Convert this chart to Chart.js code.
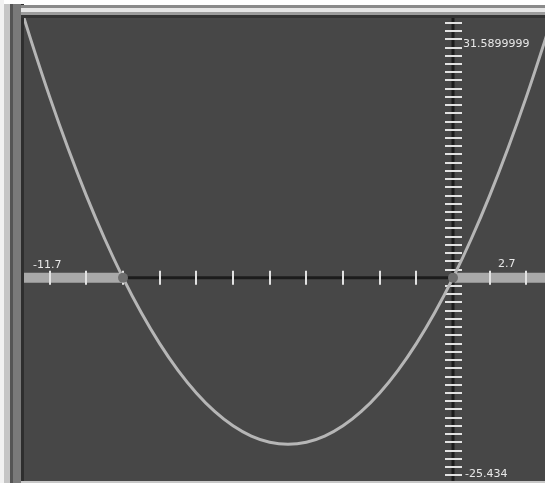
<!DOCTYPE html>
<html>
<head>
<meta charset="utf-8">
<script src="https://cdn.jsdelivr.net/npm/chart.js@4.4.1/dist/chart.umd.min.js"></script>
<style>
  html, body { margin: 0; padding: 0; overflow: hidden; background: #ffffff; width: 545px; height: 483px; }
  .strip { position: absolute; }
  #plot { position: absolute; left: 24px; top: 18px; background: #474747; }
</style>
</head>
<body>
<!-- window frame -->
<div class="strip" style="left:0;top:0;width:4px;height:483px;background:#f2f2f2"></div>
<div class="strip" style="left:4px;top:4px;width:6px;height:479px;background:#c6c6c6"></div>
<div class="strip" style="left:10px;top:4px;width:3px;height:479px;background:#555"></div>
<div class="strip" style="left:13px;top:4px;width:8px;height:479px;background:#7a7a7a"></div>
<div class="strip" style="left:21px;top:4px;width:3px;height:479px;background:#2e2e2e"></div>
<div class="strip" style="left:21px;top:5px;width:524px;height:3px;background:#8a8a8a"></div>
<div class="strip" style="left:21px;top:8px;width:524px;height:4px;background:#e6e6e6"></div>
<div class="strip" style="left:21px;top:12px;width:524px;height:3px;background:#9c9c9c"></div>
<div class="strip" style="left:21px;top:15px;width:524px;height:3px;background:#343434"></div>

<canvas id="plot" width="528" height="469"></canvas>
<div class="strip" style="left:21px;top:481px;width:524px;height:2px;background:#c8c8c8"></div>

<script>
// window range of the graph
const xMin = -11.7;
const xMax = 2.7;
const yMin = -25.434;
const yMax = 31.5899999;

// curve points
const curveX = [-11.7, -11.5, -11, -10.5, -10, -9.5, -9, -8.5, -8, -7.5, -7, -6.5, -6, -5.5, -5, -4.5,
                -4, -3.5, -3, -2.5, -2, -1.5, -1, -0.5, 0, 0.5, 1, 1.5, 2, 2.5, 2.7];
const curveY = [31.59, 28.75, 22, 15.75, 10, 4.75, 0, -4.25, -8, -11.25, -14, -16.25, -18, -19.25, -20, -20.25,
                -20, -19.25, -18, -16.25, -14, -11.25, -8, -4.25, 0, 4.75, 10, 15.75, 22, 28.75, 31.59];

// zeros of the curve
const roots = [-9, 0];

// tick marks on both axes
const xTicks = [-11, -10, -9, -8, -7, -6, -5, -4, -3, -2, -1, 1, 2];
const yTicks = [];
for (let v = -25; v <= 31; v++) { if (v !== 0) yTicks.push(v); }

// labels at the window edges
const xLabels = ['-11.7', '2.7'];
const yLabels = ['31.5899999', '-25.434'];

const toPoints = (xs, ys) => xs.map((x, i) => ({ x: x, y: ys[i] }));

// draws the tick marks and labels just before the curve goes down
const axisDecor = {
    id: 'axisDecor',
    beforeDatasetDraw(chart, args) {
        if (args.meta.label !== 'curve') return;
        const ctx = chart.ctx;
        const xs = chart.scales.x;
        const ys = chart.scales.y;
        const x0 = xs.getPixelForValue(0);
        const y0 = ys.getPixelForValue(0);
        ctx.save();
        ctx.strokeStyle = '#e2e2e2';
        ctx.lineWidth = 2;
        ctx.beginPath();
        xTicks.forEach(v => {
            const px = Math.round(xs.getPixelForValue(v));
            ctx.moveTo(px, y0 - 7);
            ctx.lineTo(px, y0 + 7);
        });
        yTicks.forEach(v => {
            const py = Math.round(ys.getPixelForValue(v));
            ctx.moveTo(x0 - 8, py);
            ctx.lineTo(x0 + 9, py);
        });
        ctx.stroke();

        ctx.fillStyle = '#e8e8e8';
        ctx.font = '11px "DejaVu Sans", sans-serif';
        ctx.textBaseline = 'alphabetic';
        ctx.textAlign = 'left';
        ctx.fillText(xLabels[0], xs.getPixelForValue(xMin) + 9, y0 - 10);
        ctx.fillText(xLabels[1], xs.getPixelForValue(xMax) - 54, y0 - 11);
        ctx.fillText(yLabels[0], x0 + 10, ys.getPixelForValue(yMax) + 29);
        ctx.fillText(yLabels[1], x0 + 12, ys.getPixelForValue(yMin) - 10);
        ctx.restore();
    }
};

function renderGraph() {
    const ctx = document.getElementById('plot').getContext('2d');
    new Chart(ctx, {
        type: 'scatter',
        data: {
            datasets: [
                {
                    label: 'roots',
                    data: roots.map(r => ({ x: r, y: 0 })),
                    pointRadius: 5,
                    pointBackgroundColor: '#6e6e6e',
                    pointBorderWidth: 0,
                    showLine: false,
                    order: 0
                },
                {
                    label: 'curve',
                    data: toPoints(curveX, curveY),
                    showLine: true,
                    borderColor: '#b6b6b6',
                    borderWidth: 3,
                    pointRadius: 0,
                    cubicInterpolationMode: 'monotone',
                    order: 1
                },
                {
                    label: 'negative',
                    data: [{ x: roots[0], y: 0 }, { x: roots[1], y: 0 }],
                    showLine: true,
                    borderColor: '#1c1c1c',
                    borderWidth: 3,
                    pointRadius: 0,
                    order: 2
                },
                {
                    label: 'yaxis',
                    data: [{ x: 0, y: yMin }, { x: 0, y: yMax }],
                    showLine: true,
                    borderColor: '#1c1c1c',
                    borderWidth: 3,
                    pointRadius: 0,
                    order: 3
                },
                {
                    label: 'positive left',
                    data: [{ x: xMin, y: 0 }, { x: roots[0], y: 0 }],
                    showLine: true,
                    borderColor: '#a9a9a9',
                    borderWidth: 10,
                    pointRadius: 0,
                    order: 4
                },
                {
                    label: 'positive right',
                    data: [{ x: roots[1], y: 0 }, { x: xMax, y: 0 }],
                    showLine: true,
                    borderColor: '#a9a9a9',
                    borderWidth: 10,
                    pointRadius: 0,
                    order: 4
                }
            ]
        },
        options: {
            responsive: false,
            animation: false,
            devicePixelRatio: 1,
            layout: { padding: 0, autoPadding: false },
            clip: false,
            plugins: {
                legend: { display: false },
                tooltip: { enabled: false }
            },
            scales: {
                x: { type: 'linear', min: xMin, max: xMax, display: false },
                y: { type: 'linear', min: yMin, max: yMax, display: false }
            }
        },
        plugins: [axisDecor]
    });
}

document.addEventListener('DOMContentLoaded', renderGraph);
</script>
</body>
</html>
